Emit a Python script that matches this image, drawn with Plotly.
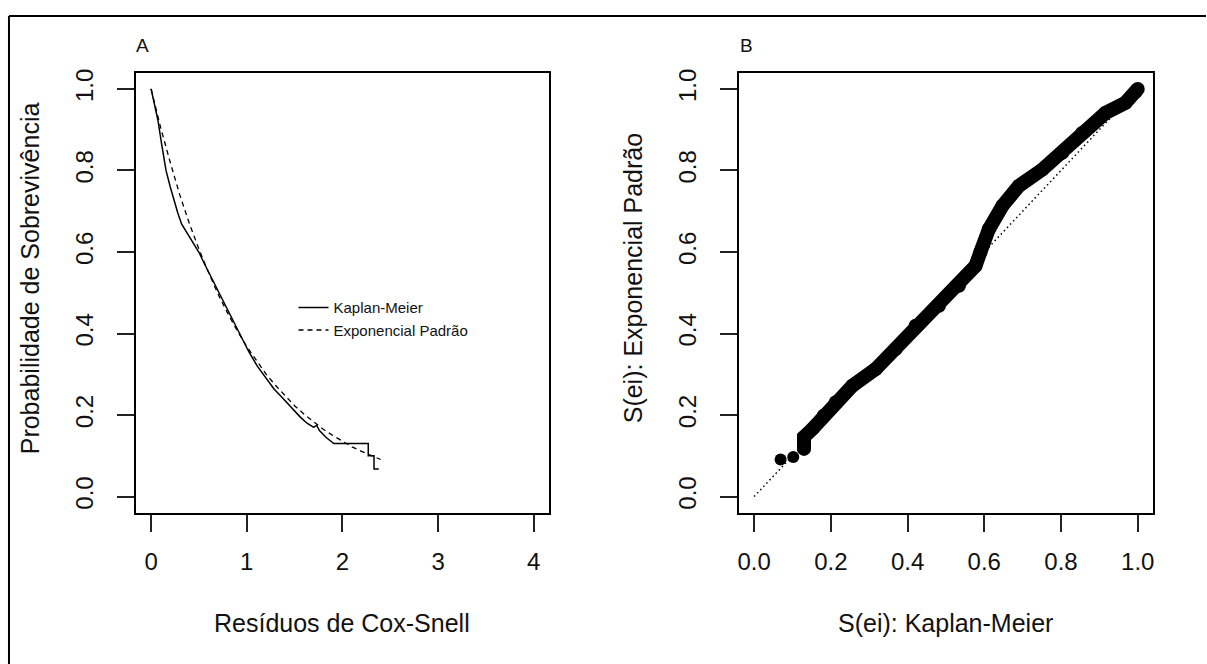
import plotly.graph_objects as go

W, H = 1207, 664

# ---- Panel A data: Cox-Snell residuals ----
km_resid = [0, 0.03, 0.07, 0.11, 0.156, 0.20, 0.24, 0.28, 0.32, 0.37, 0.417, 0.46, 0.503,
            0.56, 0.625, 0.69, 0.764, 0.85, 0.94, 1.02, 1.11, 1.20, 1.285, 1.35, 1.42,
            1.49, 1.56, 1.63, 1.70, 1.73, 1.76, 1.83, 1.91, 2.27, 2.27, 2.33, 2.33, 2.38]
km_surv = [1.0, 0.965, 0.925, 0.865, 0.80, 0.76, 0.725, 0.695, 0.668, 0.648, 0.63, 0.615, 0.598,
           0.57, 0.54, 0.508, 0.475, 0.435, 0.395, 0.356, 0.32, 0.29, 0.264, 0.248, 0.23,
           0.212, 0.195, 0.18, 0.17, 0.175, 0.162, 0.145, 0.13, 0.13, 0.10, 0.10, 0.068, 0.068]

exp_resid = [0, 0.1, 0.2, 0.3, 0.4, 0.5, 0.6, 0.7, 0.8, 0.9, 1.0, 1.1, 1.2, 1.3, 1.4,
             1.5, 1.6, 1.7, 1.8, 1.9, 2.0, 2.1, 2.2, 2.3, 2.4]
exp_surv = [1.0, 0.905, 0.82, 0.74, 0.67, 0.607, 0.55, 0.497, 0.45, 0.407, 0.368, 0.333,
            0.301, 0.273, 0.247, 0.223, 0.202, 0.183, 0.165, 0.15, 0.135, 0.122, 0.111,
            0.10, 0.091]

# ---- Panel B data: S(ei) Kaplan-Meier vs S(ei) exponential ----
b_km = [0.069, 0.102, 0.130, 0.130, 0.152, 0.182, 0.213, 0.256, 0.317, 0.369, 0.421,
        0.482, 0.534, 0.577, 0.590, 0.612, 0.647, 0.690, 0.751, 0.803, 0.855, 0.916,
        0.968, 0.994, 1.0]
b_exp = [0.091, 0.097, 0.117, 0.146, 0.166, 0.199, 0.2315, 0.272, 0.313, 0.362, 0.419,
         0.468, 0.517, 0.566, 0.600, 0.656, 0.713, 0.762, 0.802, 0.843, 0.892, 0.941,
         0.966, 0.992, 1.0]
ref_line = [0.0, 1.0]

x_ticks_a = [0, 1, 2, 3, 4]
ticks_01 = [0.0, 0.2, 0.4, 0.6, 0.8, 1.0]
tick_text_01 = ["0.0", "0.2", "0.4", "0.6", "0.8", "1.0"]

FONT = "Arial, Liberation Sans, sans-serif"

fig = go.Figure()

fig.add_trace(go.Scatter(x=km_resid, y=km_surv, mode="lines", name="Kaplan-Meier",
                         line=dict(color="black", width=1.5), xaxis="x", yaxis="y"))
fig.add_trace(go.Scatter(x=exp_resid, y=exp_surv, mode="lines", name="Exponencial Padrão",
                         line=dict(color="black", width=1.3, dash="5px,4px"),
                         xaxis="x", yaxis="y"))

fig.add_trace(go.Scatter(x=ref_line, y=ref_line, mode="lines", showlegend=False,
                         line=dict(color="black", width=1.5, dash="1.5px,3px"),
                         xaxis="x2", yaxis="y2"))
fig.add_trace(go.Scatter(x=b_km[:2], y=b_exp[:2], mode="markers", showlegend=False,
                         marker=dict(color="black", size=12),
                         xaxis="x2", yaxis="y2"))
fig.add_trace(go.Scatter(x=b_km[2:], y=b_exp[2:], mode="lines+markers", showlegend=False,
                         line=dict(color="black", width=14),
                         marker=dict(color="black", size=14),
                         xaxis="x2", yaxis="y2"))

ydom = [1 - 512 / H, 1 - 69 / H]
common = dict(showline=True, linecolor="black", linewidth=2, mirror=True,
              ticks="outside", ticklen=17, tickwidth=1.5, tickcolor="#222",
              showgrid=False, zeroline=False,
              tickfont=dict(family=FONT, size=24, color="#111"))

fig.update_layout(
    width=W, height=H,
    margin=dict(l=0, r=0, t=0, b=0),
    paper_bgcolor="white", plot_bgcolor="white",
    xaxis=dict(domain=[135 / W, 549 / W], range=[-0.16, 4.16], tickvals=x_ticks_a,
               anchor="y", ticklabelstandoff=9, **common),
    yaxis=dict(domain=ydom, range=[-0.04, 1.04], tickvals=ticks_01, ticktext=tick_text_01,
               tickangle=-90, anchor="x", ticklabelstandoff=14, **common),
    xaxis2=dict(domain=[739 / W, 1154 / W], range=[-0.04, 1.04], tickvals=ticks_01,
                ticktext=tick_text_01, anchor="y2", ticklabelstandoff=9, **common),
    yaxis2=dict(domain=ydom, range=[-0.04, 1.04], tickvals=ticks_01, ticktext=tick_text_01,
                tickangle=-90, anchor="x2", ticklabelstandoff=14, **common),
    showlegend=True,
    legend=dict(x=293 / W, y=1 - 289 / H, xanchor="left", yanchor="top",
                bgcolor="rgba(0,0,0,0)", borderwidth=0,
                font=dict(family=FONT, size=15, color="#111"), tracegroupgap=0),
)


def label(text, x, y, size, angle=0):
    fig.add_annotation(text=text, x=x / W, y=1 - y / H, xref="paper", yref="paper",
                       xanchor="center", yanchor="middle", showarrow=False,
                       textangle=angle, font=dict(family=FONT, size=size, color="#111"))


label("A", 141.5, 41.5, 19)
label("B", 746.5, 41.5, 19)
label("Resíduos de Cox-Snell", 342, 623, 25)
label("S(ei): Kaplan-Meier", 946.5, 623, 25)
label("Probabilidade de Sobrevivência", 29, 276, 25, -90)
label("S(ei): Exponencial Padrão", 633, 276, 25, -90)

# outer frame of the figure (left and top edges visible)
fig.add_shape(type="line", xref="paper", yref="paper", x0=8 / W, x1=1.0, y0=1 - 12 / H,
              y1=1 - 12 / H, line=dict(color="black", width=2))
fig.add_shape(type="line", xref="paper", yref="paper", x0=8 / W, x1=8 / W, y0=1 - 12 / H,
              y1=0, line=dict(color="black", width=2))

fig.write_html("out.html")
